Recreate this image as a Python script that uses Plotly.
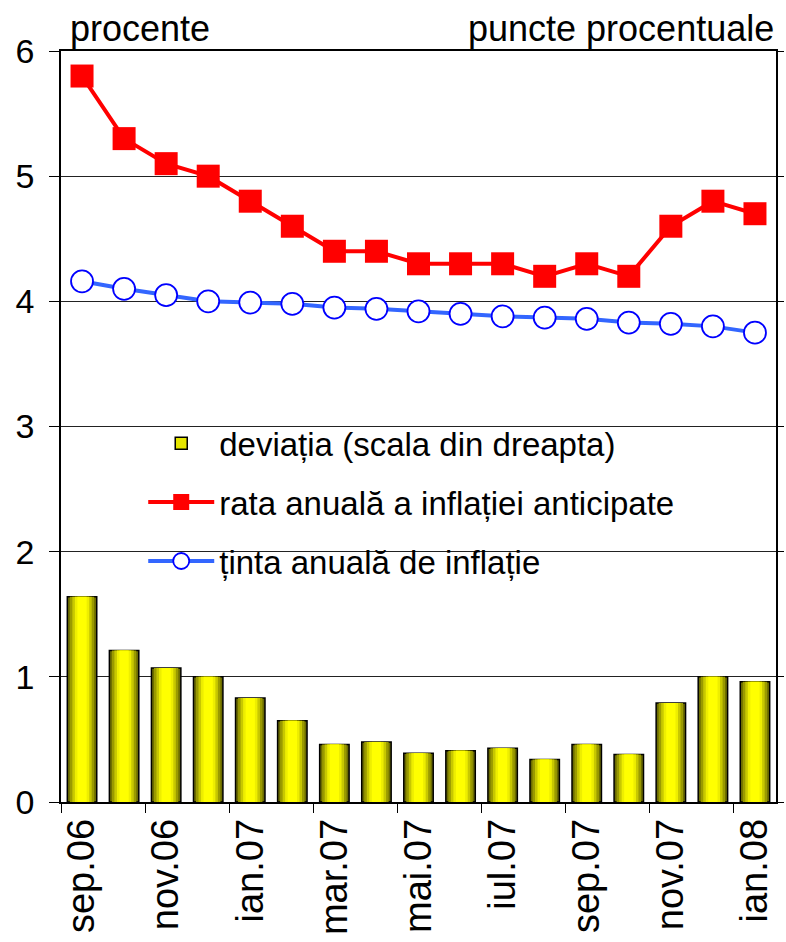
import plotly.graph_objects as go

months = ["sep.06", "oct.06", "nov.06", "dec.06", "ian.07", "feb.07", "mar.07", "apr.07",
          "mai.07", "iun.07", "iul.07", "aug.07", "sep.07", "oct.07", "nov.07", "dec.07", "ian.08"]
rata = [5.8, 5.3, 5.1, 5.0, 4.8, 4.6, 4.4, 4.4, 4.3, 4.3, 4.3, 4.2, 4.3, 4.2, 4.6, 4.8, 4.7]
tinta = [4.16, 4.10, 4.05, 4.00, 3.99, 3.98, 3.95, 3.94, 3.92, 3.90, 3.88, 3.87, 3.86, 3.83, 3.82, 3.80, 3.75]
deviatia = [1.64, 1.21, 1.07, 1.00, 0.83, 0.65, 0.46, 0.48, 0.39, 0.41, 0.43, 0.34, 0.46, 0.38, 0.79, 1.00, 0.96]

x = list(range(len(months)))
label_idx = x[::2]
label_txt = [months[i] for i in label_idx]
boundaries = [i - 0.5 for i in range(0, len(months) + 1, 2)]

fig = go.Figure()

# bars with layered pseudo-gradient
layers = [(0.70, "#6b6b00", dict(color="black", width=1.5)),
          (0.58, "#9a9a00", dict(width=0)),
          (0.46, "#c8c800", dict(width=0)),
          (0.34, "#eeee00", dict(width=0)),
          (0.22, "#ffff00", dict(width=0))]
for k, (w, c, ln) in enumerate(layers):
    fig.add_trace(go.Bar(
        x=x, y=deviatia, width=w, marker=dict(color=c, line=ln),
        yaxis="y2", name="deviația (scala din dreapta)",
        showlegend=False, legendgroup="a", hoverinfo="skip" if k else None))
# legend entry for bars
fig.add_trace(go.Bar(x=[None], y=[None], marker=dict(color="#e6e600", line=dict(color="black", width=1.5)),
                     name="deviația (scala din dreapta)", yaxis="y2", legendgroup="a"))
fig.add_trace(go.Scatter(
    x=x, y=rata, mode="lines+markers", name="rata anuală a inflației anticipate",
    line=dict(color="#ff0000", width=4),
    marker=dict(symbol="square", size=23, color="#ff0000"), legendgroup="b"))
fig.add_trace(go.Scatter(
    x=x, y=tinta, mode="lines+markers", name="ținta anuală de inflație",
    line=dict(color="#3366ff", width=4),
    marker=dict(symbol="circle", size=22, color="white", line=dict(color="#0000ff", width=1.8)),
    legendgroup="c"))

# invisible trace to host boundary ticks on xaxis2
fig.add_trace(go.Scatter(x=[0], y=[0], xaxis="x2", mode="markers", marker=dict(opacity=0),
                         showlegend=False, hoverinfo="skip"))

fig.update_layout(
    width=786, height=942,
    margin=dict(l=61, r=4, t=51, b=140),
    plot_bgcolor="white", paper_bgcolor="white",
    font=dict(family="Liberation Sans, Arial", color="black"),
    barmode="overlay",
    bargap=0.3,
    xaxis=dict(range=[-0.5, 16.5], tickmode="array", tickvals=label_idx, ticktext=label_txt,
               tickangle=-90, tickfont=dict(size=38), ticks="", showgrid=False,
               showline=True, linecolor="black", linewidth=1.5, mirror=True, zeroline=False),
    xaxis2=dict(range=[-0.5, 16.5], overlaying="x", tickmode="array", tickvals=boundaries,
                showticklabels=False, ticks="outside", ticklen=10, tickcolor="black",
                showgrid=False, zeroline=False, anchor="y"),
    yaxis=dict(range=[0, 6], tickvals=[0, 1, 2, 3, 4, 5, 6], tickfont=dict(size=34),
               ticks="outside", ticklen=10, tickcolor="black", showgrid=True, gridcolor="#222222",
               gridwidth=1, showline=True, linecolor="black", linewidth=1.5, zeroline=False,
               ticklabelstandoff=8),
    yaxis2=dict(range=[0, 6], overlaying="y", side="right", tickvals=[0, 1, 2, 3, 4, 5, 6],
                showticklabels=False, ticks="outside", ticklen=6, tickcolor="black",
                showgrid=False, showline=True, linecolor="black", linewidth=1.5, zeroline=False),
    legend=dict(x=0.115, y=0.515, xanchor="left", yanchor="top", bgcolor="rgba(0,0,0,0)",
                font=dict(size=33), traceorder="grouped", tracegroupgap=13, itemwidth=66),
    annotations=[
        dict(text="procente", x=0.01, y=1.0, xref="paper", yref="paper", xanchor="left",
             yanchor="bottom", showarrow=False, font=dict(size=36)),
        dict(text="puncte procentuale", x=1.0, y=1.0, xref="paper", yref="paper",
             xanchor="right", yanchor="bottom", showarrow=False, font=dict(size=36)),
    ],
)

fig.write_html("out.html")
